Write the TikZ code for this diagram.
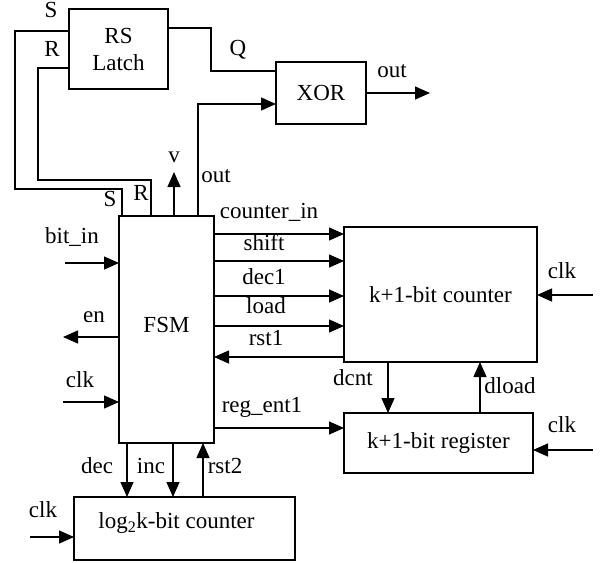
\documentclass[tikz,border=0pt]{standalone}
\usepackage{fontspec}
\setmainfont{Liberation Serif}
\usetikzlibrary{positioning,arrows.meta,calc}
\tikzset{
  dg/.style={font=\fontsize{23}{27}\selectfont, text=black},
  dgbox/.style={
    dg, draw, line width=1.3pt, align=center, inner sep=0pt, outer sep=0pt
  },
  dgwire/.style={line width=1.3pt},
  dgarr/.style={dgwire, -{Triangle[length=15pt,width=13pt]}},
  dglbl/.style={dg, anchor=base, inner sep=0pt},
}

\begin{document}
\begin{tikzpicture}[x=1pt, y=-1pt]
    \useasboundingbox (0,0) rectangle (602,562);

    \node[dgbox, minimum width=95pt, minimum height=227pt, text depth=10pt] (fsm) at (166.5,329.5) {FSM};
    \node[dgbox, minimum width=193pt, minimum height=135pt,
      below right=11pt and 130pt of fsm.north east] (cnt) {k+1-bit counter};
    \node[dgbox, minimum width=189pt, minimum height=60pt,
      below right=51pt and 0pt of cnt.south west] (reg) {k+1-bit register};
    \node[dgbox, minimum width=221pt, minimum height=63pt, text depth=16pt,
      below right=54pt and -45pt of fsm.south west] (lcnt) {log\textsubscript{2}k-bit counter\kern16pt};
    \node[dgbox, minimum width=90pt, minimum height=62pt,
      above right=92pt and 62pt of fsm.north east] (xor) {XOR};
    \node[dgbox, minimum width=99pt, minimum height=80pt,
      above right=127pt and -50pt of fsm.north west] (latch) {RS\\Latch};

    % latch loop
    \draw[dgwire] ([yshift=18pt]latch.west) -| (15,189) -| ([xshift=3pt]fsm.north west);
    \draw[dgwire] ([yshift=-19pt]latch.west) -| (38,180) -| ([xshift=32pt]fsm.north west);
    \draw[dgwire] ([yshift=21pt]latch.east) -| (211,71) -- ([yshift=22pt]xor.west);
    \draw[dgarr] ([xshift=79pt]fsm.north west) |- ([yshift=-11pt]xor.west);
    \coordinate (vout) at ($(fsm.north west)+(55,-44)$);
    \draw[dgarr] (vout |- fsm.north) -- (vout);
    \coordinate (xout) at ($(xor.east)+(64,0)$);
    \draw[dgarr] (xor.east) -- (xout);

    \node[dglbl] (ls1) at (51,17) {S};
    \node[dglbl] (lr1) at (52,56) {R};
    \node[dglbl] (ls2) at (110,206) {S};
    \node[dglbl] (lr2) at (141,200) {R};
    \node[dglbl] (lv) at (174,162) {v};
    \node[dglbl] (lout1) at (216,182) {out};
    \node[dglbl] (lq) at (238,55) {Q};
    \node[dglbl] (lout2) at (392,77) {out};

    % fsm left side
    \coordinate (bitin) at (65,263);
    \coordinate (enout) at (63,337);
    \coordinate (clkf) at (63,402);
    \draw[dgarr] (bitin) -- (bitin -| fsm.west);
    \draw[dgarr] (enout -| fsm.west) -- (enout);
    \draw[dgarr] (clkf) -- (clkf -| fsm.west);
    \node[dglbl] (lbitin) at (72,243) {bit\_in};
    \node[dglbl] (len) at (94,322) {en};
    \node[dglbl] (lclkf) at (80,387) {clk};

    % fsm to counter
    \coordinate (cin) at ($(cnt.north west)+(0,7)$);
    \coordinate (shf) at ($(cnt.north west)+(0,34)$);
    \coordinate (dca) at ($(cnt.north west)+(0,69)$);
    \coordinate (lod) at ($(cnt.north west)+(0,99)$);
    \coordinate (rsa) at ($(cnt.north west)+(0,130)$);
    \draw[dgarr] (cin -| fsm.east) -- (cin);
    \draw[dgarr] (shf -| fsm.east) -- (shf);
    \draw[dgarr] (dca -| fsm.east) -- (dca);
    \draw[dgarr] (lod -| fsm.east) -- (lod);
    \draw[dgarr] (rsa) -- (rsa -| fsm.east);
    \node[dglbl] (lcin) at (269,218) {counter\_in};
    \node[dglbl] (lshf) at (264,250) {shift};
    \node[dglbl] (ldca) at (264,284) {dec1};
    \node[dglbl] (llod) at (266,313) {load};
    \node[dglbl] (lrsa) at (266,345) {rst1};

    % counter and register
    \coordinate (clkc) at (593,295);
    \coordinate (clkr) at (593,450);
    \draw[dgarr] (clkc) -- (clkc -| cnt.east);
    \draw[dgarr] (clkr) -- (clkr -| reg.east);
    \coordinate (dcnt) at ($(cnt.south west)+(44,0)$);
    \coordinate (dload) at ($(reg.north west)+(136,0)$);
    \draw[dgarr] (dcnt) -- (dcnt |- reg.north);
    \draw[dgarr] (dload) -- (dload |- cnt.south);
    \coordinate (regin) at ($(reg.west)+(0,-15)$);
    \draw[dgarr] (regin -| fsm.east) -- (regin);
    \node[dglbl] (lclkc) at (562,278) {clk};
    \node[dglbl] (lclkr) at (562,432) {clk};
    \node[dglbl] (ldcnt) at (353,385) {dcnt};
    \node[dglbl] (ldload) at (510,393) {dload};
    \node[dglbl] (lregin) at (262,412) {reg\_ent1};

    % fsm to small counter
    \coordinate (dec) at ($(fsm.south west)+(8,0)$);
    \coordinate (inc) at ($(fsm.south west)+(54,0)$);
    \coordinate (rsb) at ($(fsm.south west)+(84,0)$);
    \draw[dgarr] (dec) -- (dec |- lcnt.north);
    \draw[dgarr] (inc) -- (inc |- lcnt.north);
    \draw[dgarr] (rsb |- lcnt.north) -- (rsb);
    \coordinate (clkl) at (30,537);
    \draw[dgarr] (clkl) -- (clkl -| lcnt.west);
    \node[dglbl] (ldec) at (97,473) {dec};
    \node[dglbl] (linc) at (151,473) {inc};
    \node[dglbl] (lrsb) at (225,473) {rst2};
    \node[dglbl] (lclkl) at (43,517) {clk};
\end{tikzpicture}
\end{document}
